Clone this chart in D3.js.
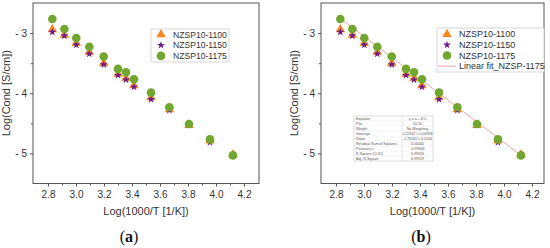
<!DOCTYPE html>
<html>
<head>
<meta charset="utf-8">
<script src="https://cdn.jsdelivr.net/npm/d3@7"></script>
<style>
  html, body { margin: 0; padding: 0; background: #fff; }
  svg { display: block; font-family: 'Liberation Sans', Arial, sans-serif; }
</style>
</head>
<body>
<svg id="chart" width="550" height="248"></svg>
<script>
// log(1000/T) positions shared by all three samples
const xVals = [2.831, 2.917, 3.002, 3.095, 3.198, 3.300, 3.357, 3.414, 3.536, 3.667, 3.807, 3.957, 4.121]
const cond1100 = [-2.94, -3.03, -3.17, -3.32, -3.50, -3.68, -3.75, -3.87, -4.07, -4.27, -4.53, -4.79, -5.02]
const cond1150 = [-2.983, -3.045, -3.195, -3.345, -3.525, -3.70, -3.775, -3.895, -4.10, -4.28, -4.53, -4.815, -5.03]
const cond1175 = [-2.767, -2.933, -3.083, -3.228, -3.39, -3.595, -3.65, -3.767, -3.99, -4.233, -4.512, -4.767, -5.033]

const seriesNames = ['NZSP10-1100', 'NZSP10-1150', 'NZSP10-1175']
const fitName = 'Linear fit_NZSP-1175'
const fitIntercept = 2.22947
const fitSlope = -1.76161

const xTicks = [2.8, 3.0, 3.2, 3.4, 3.6, 3.8, 4.0, 4.2]
const xMinorTicks = [2.9, 3.1, 3.3, 3.5, 3.7, 3.9, 4.1]
const yTicks = [-3, -4, -5]
const yMinorTicks = [-3.5, -4.5]

const fitTable = [
    ['Equation', 'y = a + b*x'],
    ['Plot', '10-10'],
    ['Weight', 'No Weighting'],
    ['Intercept', '2.22947 \u00b1 0.04958'],
    ['Slope', '-1.76161 \u00b1 0.0140'],
    ['Residual Sum of Squares', '0.00440'],
    ["Pearson's r", '-0.99963'],
    ['R-Square (COD)', '0.99926'],
    ['Adj. R-Square', '0.99919'],
]

const COLORS = { c1100: '#f7871f', c1150: '#6a1b8f', c1175: '#71a72e', fit: '#f2a5a5', axis: '#555', text: '#333' }

const svg = d3.select('#chart')

function drawPanel(opt) {
    const { left, right, top, bottom, x28, showFit, label, labelX } = opt
    const g = svg.append('g')

    // 140 px per x unit, 2.8 sits at x28
    const xScale = d3.scaleLinear()
        .domain([2.8 - (x28 - left) / 140, 2.8 + (right - x28) / 140])
        .range([left, right])
    const yScale = d3.scaleLinear().domain([-5.5, -2.5]).range([bottom, top])

    // frame
    g.append('rect')
        .attr('x', left).attr('y', top)
        .attr('width', right - left).attr('height', bottom - top)
        .attr('fill', 'none').attr('stroke', COLORS.axis).attr('stroke-width', 1)

    // x axis
    const xAxis = g.append('g')
        .attr('transform', `translate(0,${bottom})`)
        .call(d3.axisBottom(xScale).tickValues(xTicks).tickFormat(d3.format('.1f')).tickSize(3).tickPadding(4))
    xAxis.select('.domain').remove()
    xAxis.selectAll('line').attr('stroke', COLORS.axis)
    xAxis.selectAll('text').attr('font-size', 10).attr('fill', COLORS.text)
        .attr('font-family', 'Liberation Sans, Arial, sans-serif')
    g.append('g')
        .attr('transform', `translate(0,${bottom})`)
        .call(d3.axisBottom(xScale).tickValues(xMinorTicks).tickFormat('').tickSize(2))
        .call(s => s.select('.domain').remove())
        .selectAll('line').attr('stroke', COLORS.axis)

    // y axis
    const yAxis = g.append('g')
        .attr('transform', `translate(${left},0)`)
        .call(d3.axisLeft(yScale).tickValues(yTicks).tickFormat(d => '- ' + Math.abs(d)).tickSize(3).tickPadding(3))
    yAxis.select('.domain').remove()
    yAxis.selectAll('line').attr('stroke', COLORS.axis)
    yAxis.selectAll('text').attr('font-size', 10).attr('fill', COLORS.text)
        .attr('font-family', 'Liberation Sans, Arial, sans-serif')
    g.append('g')
        .attr('transform', `translate(${left},0)`)
        .call(d3.axisLeft(yScale).tickValues(yMinorTicks).tickFormat('').tickSize(2))
        .call(s => s.select('.domain').remove())
        .selectAll('line').attr('stroke', COLORS.axis)

    // axis titles
    g.append('text')
        .attr('x', (left + right) / 2).attr('y', bottom + 31)
        .attr('text-anchor', 'middle').attr('font-size', 11).attr('fill', COLORS.text)
        .text('Log(1000/T [1/K])')
    g.append('text')
        .attr('transform', `translate(${left - 23},${(top + bottom) / 2}) rotate(-90)`)
        .attr('text-anchor', 'middle').attr('font-size', 11).attr('fill', COLORS.text)
        .text('Log(Cond [S/cm])')

    // panel label
    const lab = g.append('text')
        .attr('x', labelX).attr('y', 242)
        .attr('text-anchor', 'middle').attr('font-size', 16).attr('fill', '#111')
        .attr('font-family', 'Liberation Serif, Times New Roman, serif')
    lab.append('tspan').text('(')
    lab.append('tspan').attr('font-weight', 'bold').text(label)
    lab.append('tspan').text(')')

    // fit line
    if (showFit) {
        const fitX = [d3.min(xVals), d3.max(xVals)]
        g.append('path')
            .datum(fitX)
            .attr('fill', 'none').attr('stroke', COLORS.fit).attr('stroke-width', 1)
            .attr('d', d3.line().x(d => xScale(d)).y(d => yScale(fitIntercept + fitSlope * d)))
    }

    const tri = d3.symbol().type(d3.symbolTriangle).size(40)
    const star = d3.symbol().type(d3.symbolStar).size(20)

    g.selectAll('.p1100').data(xVals.map((x, i) => [x, cond1100[i]])).enter()
        .append('path').attr('class', 'p1100')
        .attr('transform', d => `translate(${xScale(d[0])},${yScale(d[1])})`)
        .attr('d', tri).attr('fill', COLORS.c1100)
    g.selectAll('.p1150').data(xVals.map((x, i) => [x, cond1150[i]])).enter()
        .append('path').attr('class', 'p1150')
        .attr('transform', d => `translate(${xScale(d[0])},${yScale(d[1])})`)
        .attr('d', star).attr('fill', COLORS.c1150)
    g.selectAll('.p1175').data(xVals.map((x, i) => [x, cond1175[i]])).enter()
        .append('circle').attr('class', 'p1175')
        .attr('cx', d => xScale(d[0])).attr('cy', d => yScale(d[1]))
        .attr('r', 4.3).attr('fill', COLORS.c1175)

    // legend
    const L = opt.legend
    const lg = g.append('g')
    lg.append('rect')
        .attr('x', L.x).attr('y', L.y).attr('width', L.w).attr('height', L.h)
        .attr('fill', '#fff').attr('stroke', '#ccc').attr('stroke-width', 0.8)
    const entries = seriesNames.slice()
    if (showFit) entries.push(fitName)
    entries.forEach((name, i) => {
        const cy = L.y + L.first + i * L.step
        const sx = L.x + L.sym
        if (i === 0) lg.append('path').attr('transform', `translate(${sx},${cy})`).attr('d', tri).attr('fill', COLORS.c1100)
        if (i === 1) lg.append('path').attr('transform', `translate(${sx},${cy})`).attr('d', star).attr('fill', COLORS.c1150)
        if (i === 2) lg.append('circle').attr('cx', sx).attr('cy', cy).attr('r', 4.3).attr('fill', COLORS.c1175)
        if (i === 3) lg.append('line').attr('x1', sx - 9).attr('x2', sx + 9).attr('y1', cy).attr('y2', cy)
            .attr('stroke', COLORS.fit).attr('stroke-width', 1)
        lg.append('text')
            .attr('x', L.x + L.txt).attr('y', cy).attr('dy', '0.35em')
            .attr('font-size', L.fs).attr('fill', COLORS.text)
            .text(name)
    })

    // fit statistics table
    if (showFit) {
        const T = opt.table
        const tg = g.append('g')
        const rowH = (T.h) / fitTable.length
        tg.append('rect').attr('x', T.x).attr('y', T.y).attr('width', T.w).attr('height', T.h)
            .attr('fill', '#fff').attr('stroke', '#bbb').attr('stroke-width', 0.5)
        tg.append('line').attr('x1', T.x + T.split).attr('x2', T.x + T.split).attr('y1', T.y).attr('y2', T.y + T.h)
            .attr('stroke', '#ccc').attr('stroke-width', 0.5)
        fitTable.forEach((row, i) => {
            if (i > 0) {
                tg.append('line').attr('x1', T.x).attr('x2', T.x + T.w)
                    .attr('y1', T.y + i * rowH).attr('y2', T.y + i * rowH)
                    .attr('stroke', '#ddd').attr('stroke-width', 0.4)
            }
            tg.append('text').attr('x', T.x + 2).attr('y', T.y + (i + 0.5) * rowH).attr('dy', '0.35em')
                .attr('font-size', 3.6).attr('fill', '#555').text(row[0])
            tg.append('text').attr('x', T.x + T.split + (T.w - T.split) / 2).attr('y', T.y + (i + 0.5) * rowH)
                .attr('dy', '0.35em').attr('text-anchor', 'middle')
                .attr('font-size', 3.6).attr('fill', '#555').text(row[1])
        })
    }
}

drawPanel({
    left: 33, right: 259, top: 3, bottom: 183.5, x28: 48, showFit: false,
    label: 'a', labelX: 129,
    legend: { x: 151, y: 29, w: 78, h: 33, first: 5.5, step: 10.7, sym: 10, txt: 22, fs: 8.6 },
})

drawPanel({
    left: 321, right: 544, top: 3, bottom: 183.5, x28: 336, showFit: true,
    label: 'b', labelX: 421,
    legend: { x: 437, y: 28, w: 107, h: 44, first: 6.3, step: 10.6, sym: 10, txt: 22, fs: 9 },
    table: { x: 354, y: 116, w: 79, h: 45, split: 48 },
})
</script>
</body>
</html>
